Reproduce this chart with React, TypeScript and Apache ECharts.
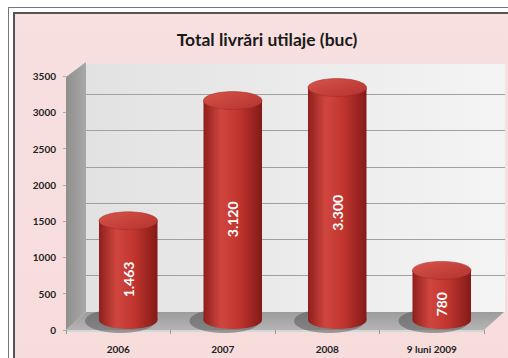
import React, { useEffect, useRef } from "react";
import * as echarts from "echarts";

const categories = ["2006", "2007", "2008", "9 luni 2009"];
const values = [1463, 3120, 3300, 780];
const yMin = 0;
const yMax = 3500;
const yInterval = 500;
const title = "Total livrări utilaje (buc)";

const FONT = "Lato, 'Open Sans', 'Noto Sans', sans-serif";

export default function App() {
  const ref = useRef<HTMLDivElement>(null);
  useEffect(() => {
    if (!ref.current) return;
    document.body.style.margin = "0";
    document.body.style.overflow = "hidden";
    const chart = echarts.init(ref.current, null, { renderer: "svg" });
    const body = () =>
      new echarts.graphic.LinearGradient(0, 0, 1, 0, [
        { offset: 0, color: "#8e1f1c" },
        { offset: 0.3, color: "#d0463f" },
        { offset: 0.6, color: "#c2352f" },
        { offset: 1, color: "#831a17" },
      ]);
    const topFill = () =>
      new echarts.graphic.LinearGradient(0, 0, 1, 1, [
        { offset: 0, color: "#d8544c" },
        { offset: 1, color: "#b3322c" },
      ]);
    const option: any = {
      animation: false,
      backgroundColor: "transparent",
      title: {
        text: title,
        left: 262,
        textAlign: "center",
        top: 25,
        textStyle: { fontFamily: FONT, fontSize: 17.5, fontWeight: "bold", color: "#1a1a1a" },
      },
      graphic: [
        {
          type: "polygon", z: 1,
          shape: { points: [[86, 64], [505, 64], [505, 312], [86, 312]] },
          style: {
            fill: new echarts.graphic.LinearGradient(0, 0, 1, 0, [
              { offset: 0, color: "#e2e2e2" },
              { offset: 1, color: "#f4f4f4" },
            ]),
          },
        },
        {
          type: "polygon", z: 1,
          shape: { points: [[66, 77], [86, 62], [86, 312], [66, 330]] },
          style: {
            fill: new echarts.graphic.LinearGradient(0, 0, 1, 0, [
              { offset: 0, color: "#8f8f8f" },
              { offset: 1, color: "#a8a8a8" },
            ]),
          },
        },
        {
          type: "polygon", z: 6,
          shape: { points: [[66, 330], [484, 330], [504, 312], [86, 312]] },
          style: {
            fill: new echarts.graphic.LinearGradient(0, 0, 0, 1, [
              { offset: 0, color: "#9c9c9c" },
              { offset: 1, color: "#b4b4b4" },
            ]),
          },
        },
        {
          type: "polygon", z: 6,
          shape: { points: [[66, 330], [484, 330], [484, 332], [66, 332]] },
          style: { fill: "#d6d6d6" },
        },
      ],
      grid: [
        { left: 66, right: 24, top: 76, bottom: 28 },
        { left: 86, right: 3, top: 58, bottom: 46 },
      ],
      xAxis: [
        {
          type: "category", gridIndex: 0, data: categories, z: 7,
          axisLine: { show: false },
          axisTick: { show: true, length: 4, lineStyle: { color: "#999" } },
          axisLabel: { margin: 14, fontFamily: FONT, fontSize: 10, fontWeight: "bold", color: "#222" },
        },
        { type: "category", gridIndex: 1, data: categories, show: false },
      ],
      yAxis: [
        {
          type: "value", gridIndex: 0, min: yMin, max: yMax, interval: yInterval, z: 7,
          axisLine: { show: false },
          axisTick: { show: true, length: 3, lineStyle: { color: "#aaa" } },
          splitLine: { show: false },
          axisLabel: { margin: 10, fontFamily: FONT, fontSize: 10, fontWeight: "bold", color: "#222", formatter: (v: number) => String(v) },
        },
        {
          type: "value", gridIndex: 1, min: yMin, max: yMax, interval: yInterval, z: 5,
          axisLine: { show: false }, axisTick: { show: false }, axisLabel: { show: false },
          splitLine: { show: true, showMaxLine: false, showMinLine: false, lineStyle: { color: "#a0a0a0", width: 1.2 } },
        },
      ],
      series: [
        {
          type: "custom",
          xAxisIndex: 0,
          yAxisIndex: 0,
          z: 10,
          data: values.map((v, i) => [i, v]),
          renderItem: (params: any, api: any) => {
            const idx = api.value(0);
            const val = api.value(1);
            const top = api.coord([idx, val]);
            const base = api.coord([idx, 0]);
            const bw = api.size([1, 0])[0] * 0.56;
            const rx = bw / 2;
            const ry = 9;
            const cx = top[0] + 10;
            const ty = top[1] - 3;
            const by = base[1] - 10;
            const label = val.toLocaleString("de-DE");
            return {
              type: "group",
              children: [
                { type: "ellipse", shape: { cx: cx - 8, cy: by + 1, rx: rx + 6, ry: ry + 3 }, style: { fill: "rgba(70,70,70,0.45)" } },
                { type: "ellipse", shape: { cx, cy: by, rx, ry }, style: { fill: body() } },
                { type: "rect", shape: { x: cx - rx, y: ty, width: bw, height: by - ty }, style: { fill: body() } },
                { type: "ellipse", shape: { cx, cy: ty, rx, ry }, style: { fill: topFill(), stroke: "#a32925", lineWidth: 0.5 } },
                {
                  type: "text",
                  x: cx,
                  y: (ty + 2 * ry + by) / 2,
                  rotation: Math.PI / 2,
                  style: {
                    text: label,
                    fill: "#ffffff",
                    font: "bold 14px " + FONT,
                    align: "center",
                    verticalAlign: "middle",
                  },
                },
              ],
            };
          },
        },
      ],
    };
    chart.setOption(option);
    return () => chart.dispose();
  }, []);
  return (
    <div style={{ position: "absolute", left: 0, top: 0, width: 508, height: 358, overflow: "hidden", background: "#ffffff" }}>
      <div style={{ position: "absolute", left: 8, top: 7, width: 700, height: 700, borderLeft: "1px solid #777", borderTop: "1px solid #777" }} />
      <div
        style={{
          position: "absolute", left: 13, top: 12, width: 700, height: 700,
          borderLeft: "2px solid #555", borderTop: "2px solid #555",
          background: "linear-gradient(#f8e0e0, #f6d8d8)",
        }}
      />
      <div ref={ref} style={{ position: "absolute", left: 0, top: 0, width: 508, height: 358 }} />
    </div>
  );
}
